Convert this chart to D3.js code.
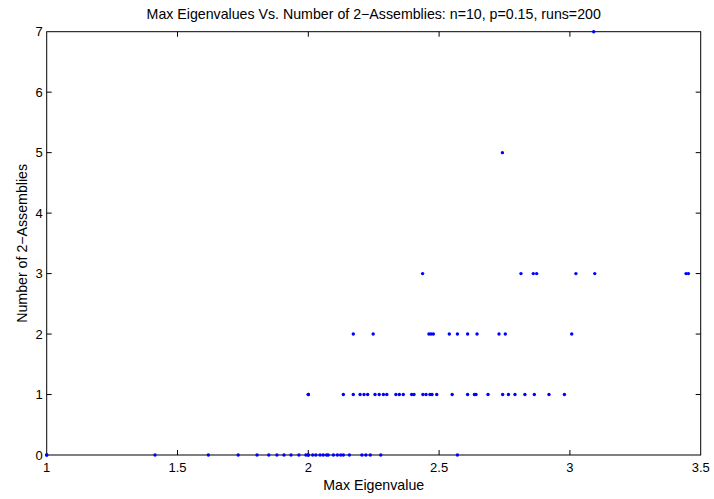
<!DOCTYPE html>
<html>
<head>
<meta charset="utf-8">
<script src="https://cdn.jsdelivr.net/npm/d3@7"></script>
<style>
  body { margin: 0; background: #fff; }
  text { font-family: "Liberation Sans", Arial, Helvetica, sans-serif; }
</style>
</head>
<body>
<div id="chart"></div>
<script>
// max eigenvalue of each run, grouped by the number of 2-assemblies found
const eig0 = [1.0, 1.0, 1.414, 1.618, 1.732, 1.804, 1.849, 1.880, 1.907, 1.934, 1.964, 1.991,
  2.0, 2.0, 2.017, 2.029, 2.045, 2.057, 2.070, 2.076, 2.096, 2.111, 2.124, 2.134,
  2.157, 2.205, 2.220, 2.237, 2.277, 2.570];
const eig1 = [2.0, 2.0, 2.134, 2.172, 2.198, 2.213, 2.227, 2.255, 2.271, 2.287, 2.300,
  2.335, 2.348, 2.363, 2.395, 2.404, 2.438, 2.450, 2.465, 2.473, 2.491, 2.550,
  2.609, 2.635, 2.641, 2.687, 2.743, 2.765, 2.790, 2.828, 2.864, 2.920, 2.979];
const eig2 = [2.172, 2.248, 2.461, 2.469, 2.478, 2.539, 2.570, 2.609, 2.645, 2.729, 2.753, 3.007];
const eig3 = [2.437, 2.813, 2.860, 2.873, 3.023, 3.095, 3.444, 3.453];
const eig5 = [2.742];
const eig7 = [3.091];

const xTicks = [1, 1.5, 2, 2.5, 3, 3.5];
const yTicks = [0, 1, 2, 3, 4, 5, 6, 7];

const points = [];
[[0, eig0], [1, eig1], [2, eig2], [3, eig3], [5, eig5], [7, eig7]].forEach(([n, arr]) => {
    arr.forEach(e => points.push({ x: e, y: n }));
});

const width = 714, height = 499;
const margin = { top: 31.7, right: 13.3, bottom: 44, left: 46.7 };
const innerWidth = width - margin.left - margin.right,
    innerHeight = height - margin.top - margin.bottom;

const svg = d3.select('#chart')
    .append('svg')
    .attr('width', width)
    .attr('height', height);

const g = svg.append('g')
    .attr('transform', 'translate(' + margin.left + ',' + margin.top + ')');

const xScale = d3.scaleLinear().domain([1, 3.5]).range([0, innerWidth]);
const yScale = d3.scaleLinear().domain([0, 7]).range([innerHeight, 0]);

// box
g.append('rect')
    .attr('width', innerWidth)
    .attr('height', innerHeight)
    .attr('fill', 'none')
    .attr('stroke', '#000')
    .attr('stroke-width', 1);

const tickLen = 5;
// inward ticks, bottom/top and left/right (MATLAB style)
g.selectAll('.xt')
    .data(xTicks.slice(1, -1))
    .enter().append('g')
    .each(function (d) {
        const x = xScale(d);
        d3.select(this).append('line')
            .attr('x1', x).attr('x2', x)
            .attr('y1', innerHeight).attr('y2', innerHeight - tickLen)
            .attr('stroke', '#000');
        d3.select(this).append('line')
            .attr('x1', x).attr('x2', x)
            .attr('y1', 0).attr('y2', tickLen)
            .attr('stroke', '#000');
    });

g.selectAll('.yt')
    .data(yTicks.slice(1, -1))
    .enter().append('g')
    .each(function (d) {
        const y = yScale(d);
        d3.select(this).append('line')
            .attr('x1', 0).attr('x2', tickLen)
            .attr('y1', y).attr('y2', y)
            .attr('stroke', '#000');
        d3.select(this).append('line')
            .attr('x1', innerWidth).attr('x2', innerWidth - tickLen)
            .attr('y1', y).attr('y2', y)
            .attr('stroke', '#000');
    });

// tick labels
g.selectAll('.xl')
    .data(xTicks)
    .enter().append('text')
    .attr('x', d => xScale(d))
    .attr('y', innerHeight + 17)
    .attr('text-anchor', 'middle')
    .attr('font-size', 13)
    .text(d => d);

g.selectAll('.yl')
    .data(yTicks)
    .enter().append('text')
    .attr('x', -4)
    .attr('y', d => yScale(d) + 4.7)
    .attr('text-anchor', 'end')
    .attr('font-size', 13)
    .text(d => d);

// points
g.selectAll('circle')
    .data(points)
    .enter().append('circle')
    .attr('cx', d => xScale(d.x))
    .attr('cy', d => yScale(d.y))
    .attr('r', 1.7)
    .attr('fill', '#0000ff');

// title and axis labels
svg.append('text')
    .attr('x', margin.left + innerWidth / 2)
    .attr('y', 18.5)
    .attr('text-anchor', 'middle')
    .attr('font-size', 14.2)
    .text('Max Eigenvalues Vs. Number of 2\u2212Assemblies: n=10, p=0.15, runs=200');

svg.append('text')
    .attr('x', margin.left + innerWidth / 2)
    .attr('y', 490)
    .attr('text-anchor', 'middle')
    .attr('font-size', 14.2)
    .text('Max Eigenvalue');

svg.append('text')
    .attr('transform', 'translate(26.5,' + (margin.top + innerHeight / 2) + ') rotate(-90)')
    .attr('text-anchor', 'middle')
    .attr('font-size', 14.2)
    .text('Number of 2\u2212Assemblies');
</script>
</body>
</html>
